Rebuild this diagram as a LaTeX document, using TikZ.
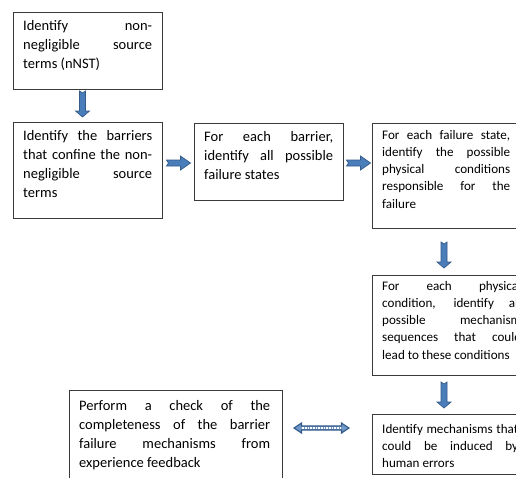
\documentclass[tikz,border=0pt]{standalone}
\usepackage{fontspec}
\setmainfont{Carlito}
\usetikzlibrary{calc}
\definecolor{arrowblue}{HTML}{4A7EBB}
\definecolor{arrowdark}{HTML}{345A88}
\definecolor{boxline}{HTML}{3A3A3A}
\hyphenpenalty=10000
\exhyphenpenalty=10000
\newcommand\mystrutL{\rule{0pt}{12pt}}
\newcommand\mystrutR{\rule{0pt}{11pt}}
\newcommand\jpar[2]{\parbox{#1}{\hyphenpenalty=10000\relax #2}}
\tikzset{
  flowbox/.style={draw=boxline, line width=0.8pt, rectangle, inner sep=0pt, outer sep=0pt, anchor=north west},
  boxtextL/.style={inner sep=0pt, anchor=north west, font=\fontsize{14.5}{19}\selectfont, text=black},
  boxtextR/.style={inner sep=0pt, anchor=north west, font=\fontsize{13.1}{17.2}\selectfont, text=black},
  blockarrow/.style={draw=arrowdark, fill=arrowblue, line width=0.7pt, line join=miter},
  darrow/.pic={\path[blockarrow] (-3,-13) -- (0,-11) -- (3,-13) -- (3,7) -- (7,7) -- (0,13) -- (-7,7) -- (-3,7) -- cycle;},
  rarrow/.pic={\path[blockarrow] (-12,-3) -- (2,-3) -- (2,-7) -- (12,0) -- (2,7) -- (2,3) -- (-12,3) -- (-10,0) -- cycle;},
  dblarrow/.pic={\path[draw=arrowdark, fill=arrowblue!80!white, line width=1.1pt] (-27.5,0) -- (-20,-5) -- (-20,-2) -- (20,-2) -- (20,-5) -- (27.5,0) -- (20,5) -- (20,2) -- (-20,2) -- (-20,5) -- cycle;
    \draw[white, line width=2.6pt, dash pattern=on 0.9pt off 0.7pt] (-20,0) -- (20,0);}
}
\begin{document}
\begin{tikzpicture}[x=1pt, y=-1pt]
\useasboundingbox (0,0) rectangle (516,477);
\clip (0,0) rectangle (516,477);
\fill[white] (0,0) rectangle (516,477);

% boxes
\node[flowbox, minimum width=149pt, minimum height=77pt] (b1) at (13,12) {};
\node[flowbox, minimum width=149pt, minimum height=96pt] (b2) at (13,122) {};
\node[flowbox, minimum width=149pt, minimum height=77pt] (b3) at (194,123) {};
\node[flowbox, minimum width=148pt, minimum height=105pt] (b4) at (372,123) {};
\node[flowbox, minimum width=159pt, minimum height=100pt] (b5) at (372,275) {};
\node[flowbox, minimum width=156pt, minimum height=60pt] (b6) at (372,414) {};
\node[flowbox, minimum width=213pt, minimum height=95pt] (b7) at (69,390) {};

% texts
\node[boxtextL] (t1) at ($(b1.north west)+(10,6)$)
  {\jpar{129pt}{\mystrutL Identify non-\linebreak negligible source\linebreak terms (nNST)}};
\node[boxtextL] (t2) at ($(b2.north west)+(10,6)$)
  {\jpar{129pt}{\mystrutL Identify the barriers\linebreak that confine the non-\linebreak negligible source\linebreak terms}};
\node[boxtextL] (t3) at ($(b3.north west)+(10,6)$)
  {\jpar{129pt}{\mystrutL For each barrier,\linebreak identify all possible\linebreak failure states}};
\node[boxtextR] (t4) at ($(b4.north west)+(10,5)$)
  {\jpar{128pt}{\mystrutR For each failure state,\linebreak identify the possible\linebreak physical conditions\linebreak responsible for the\linebreak failure}};
\node[boxtextR] (t5) at ($(b5.north west)+(10,4)$)
  {\jpar{139pt}{\mystrutR For each physical\linebreak condition, identify all\linebreak possible mechanism\linebreak sequences that could\linebreak lead to these conditions}};
\node[boxtextR] (t6) at ($(b6.north west)+(10,8)$)
  {\jpar{136pt}{\mystrutR Identify mechanisms that\linebreak could be induced by\linebreak human errors}};
\node[boxtextL] (t7) at ($(b7.north west)+(10,8)$)
  {\jpar{191pt}{\mystrutL Perform a check of the\linebreak completeness of the barrier\linebreak failure mechanisms from\linebreak experience feedback}};

% connectors (block arrows)
\pic at ($(b1.south)!0.5!(b2.north)+(-5,-1.5)$) {darrow};
\pic at ($(b2.north east)!0.5!(b3.north west)+(0.5,40.5)$) {rarrow};
\pic at ($(b3.north east)!0.5!(b4.north west)+(1,40)$) {rarrow};
\pic at ($(b4.south west)!0.5!(b5.north west)+(72,3.5)$) {darrow};
\pic at ($(b5.south west)!0.5!(b6.north west)+(72,0.5)$) {darrow};
\pic at ($(b7.north east)!0.5!(b6.north west)+(-5.5,26)$) {dblarrow};
\end{tikzpicture}
\end{document}
